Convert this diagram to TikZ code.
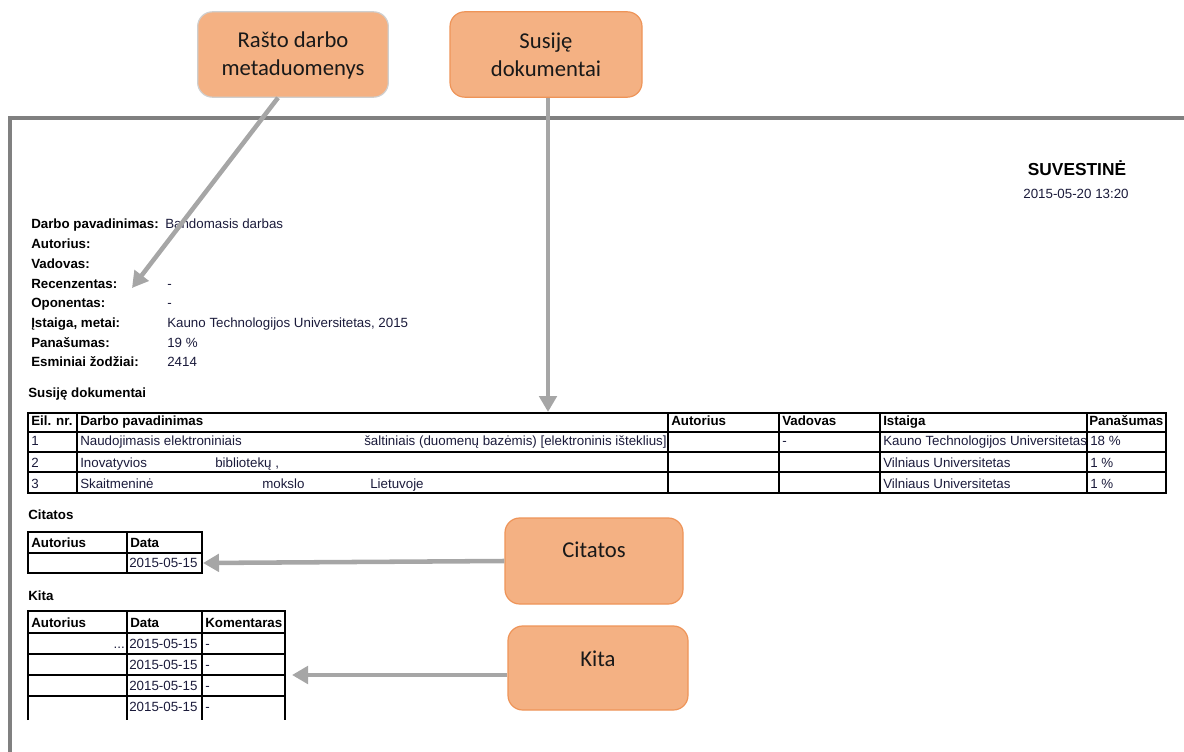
\documentclass[tikz,border=0pt]{standalone}
\usepackage{fontspec}
\setmainfont{Liberation Sans}
\newfontfamily\callfont{Carlito}
\usetikzlibrary{arrows.meta}
\definecolor{callfill}{HTML}{F4B183}
\definecolor{callborder}{HTML}{EE9458}
\definecolor{grayborder}{HTML}{CFCFCF}
\definecolor{arrowgray}{HTML}{A6A6A6}
\definecolor{framegray}{HTML}{808080}
\definecolor{valtext}{HTML}{1A1A3A}
\tikzset{
  callout/.style={draw=callborder, fill=callfill, rounded corners=11pt, line width=0.9pt, inner sep=0pt},
  calltext/.style={font=\callfont\fontsize{17}{21}\selectfont, align=center, text=black!90, inner sep=0pt},
  pointer/.style={draw=arrowgray, line width=3.4pt, -{Triangle[length=12pt,width=13pt]}},
  lbl/.style={anchor=base west, inner sep=0pt, font=\fontsize{10}{12}\selectfont\bfseries},
  val/.style={anchor=base west, inner sep=0pt, font=\fontsize{10}{12}\selectfont, text=valtext},
  tbl/.style={line width=0.8pt, draw=black},
}
\begin{document}
\begin{tikzpicture}[x=0.75pt,y=-0.75pt]
\useasboundingbox (0,0) rectangle (1184,752);
% page frame
\draw[framegray, line width=2.4pt] (10,753) -- (10,118) -- (1185,118);

% header
\node[inner sep=0pt, anchor=base, font=\fontsize{13}{15}\selectfont\bfseries] (title) at (1077,176) {SUVESTINĖ};
\node[val, anchor=base] (date) at (1076,198.5) {2015-05-20 13:20};

% metadata
\node[lbl] (l1) at (31,228.5) {Darbo pavadinimas:};
\node[val] (v1) at (165,228.5) {Bandomasis darbas};
\node[lbl] (l2) at (31,248.5) {Autorius:};
\node[lbl] (l3) at (31,268.5) {Vadovas:};
\node[lbl] (l4) at (31,288) {Recenzentas:};
\node[val] (v4) at (167,288) {-};
\node[lbl] (l5) at (31,307.5) {Oponentas:};
\node[val] (v5) at (167,307.5) {-};
\node[lbl] (l6) at (31,327.5) {Įstaiga, metai:};
\node[val] (v6) at (167,327.5) {Kauno Technologijos Universitetas, 2015};
\node[lbl] (l7) at (31,347.5) {Panašumas:};
\node[val] (v7) at (167,347.5) {19 \%};
\node[lbl] (l8) at (31,366.5) {Esminiai žodžiai:};
\node[val] (v8) at (167,366.5) {2414};

% Susije dokumentai
\node[lbl] (hs) at (28,397.5) {Susiję dokumentai};
\draw[tbl] (28,413) rectangle (1166,493);
\foreach \yy in {432,452,472} \draw[tbl] (28,\yy) -- (1166,\yy);
\foreach \xx in {77,668,779,880,1087} \draw[tbl] (\xx,413) -- (\xx,493);
\node[lbl] (th1) at (31,425.5) {Eil. nr.};
\node[lbl] (th2) at (80,425.5) {Darbo pavadinimas};
\node[lbl] (th3) at (671,425.5) {Autorius};
\node[lbl] (th4) at (782,425.5) {Vadovas};
\node[lbl] (th5) at (883,425.5) {Istaiga};
\node[lbl] (th6) at (1089,425.5) {Panašumas};
\node[val] (r1a) at (31,445.5) {1};
\node[val] (r1b) at (80,445.5) {Naudojimasis elektroniniais};
\node[val] (r1c) at (364,445.5) {šaltiniais (duomenų bazėmis) [elektroninis išteklius]};
\node[val] (r1d) at (782,445.5) {-};
\node[val] (r1e) at (883,445.5) {Kauno Technologijos Universitetas};
\node[val] (r1f) at (1090,445.5) {18 \%};
\node[val] (r2a) at (31,467) {2};
\node[val] (r2b) at (80,467) {Inovatyvios};
\node[val] (r2c) at (215,467) {bibliotekų ,};
\node[val] (r2e) at (883,467) {Vilniaus Universitetas};
\node[val] (r2f) at (1090,467) {1 \%};
\node[val] (r3a) at (31,488) {3};
\node[val] (r3b) at (80,488) {Skaitmeninė};
\node[val] (r3c) at (262,488) {mokslo};
\node[val] (r3d) at (370,488) {Lietuvoje};
\node[val] (r3e) at (883,488) {Vilniaus Universitetas};
\node[val] (r3f) at (1090,488) {1 \%};

% Citatos
\node[lbl] (hc) at (28,519.5) {Citatos};
\draw[tbl] (28,532) rectangle (202,573);
\draw[tbl] (28,553) -- (202,553);
\draw[tbl] (127,532) -- (127,573);
\node[lbl] (ch1) at (31,547.5) {Autorius};
\node[lbl] (ch2) at (130,547.5) {Data};
\node[val] (c1) at (129,567) {2015-05-15};

% Kita
\node[lbl] (hk) at (28,600) {Kita};
\draw[tbl] (28,720) -- (28,611) -- (285,611) -- (285,720);
\foreach \yy in {633,654,675,696} \draw[tbl] (28,\yy) -- (285,\yy);
\foreach \xx in {127,202} \draw[tbl] (\xx,611) -- (\xx,720);
\node[lbl] (kh1) at (31,627) {Autorius};
\node[lbl] (kh2) at (130,627) {Data};
\node[lbl] (kh3) at (205,627) {Komentaras};
\node[val, anchor=base east] (kdots) at (125,648) {...};
\foreach \yy/\nm in {648/ka,669/kb,690/kc,711/kd} {
  \node[val] (\nm d) at (129,\yy) {2015-05-15};
  \node[val] (\nm c) at (205,\yy) {-};
}

% callouts
\node[callout, draw=grayborder, minimum width=143pt, minimum height=64pt] (meta) at (293,54.5) {};
\node[calltext] (metat) at (293,55) {Rašto darbo\\metaduomenys};
\node[callout, minimum width=144pt, minimum height=64pt] (susije) at (546,54.5) {};
\node[calltext] (susijet) at (546,55) {Susiję\\dokumentai};
\node[callout, minimum width=133.5pt, minimum height=64.5pt] (citatos) at (594,561) {};
\node[calltext] (citatost) at (594,550) {Citatos};
\node[callout, minimum width=135pt, minimum height=63pt] (kita) at (598,668) {};
\node[calltext] (kitat) at (598,659) {Kita};

% pointers
\coordinate (metatip) at (132,288);
\coordinate (susijetip) at (548,412);
\coordinate (citatostip) at (203,563);
\coordinate (kitatip) at (292,675);
\draw[pointer] ([xshift=-11.25pt]meta.south) -- (metatip);
\draw[pointer] ([xshift=1.5pt]susije.south) -- (susijetip);
\draw[pointer] (citatos.west) -- (citatostip);
\draw[pointer] ([yshift=-5.25pt]kita.west) -- (kitatip);
\end{tikzpicture}
\end{document}
